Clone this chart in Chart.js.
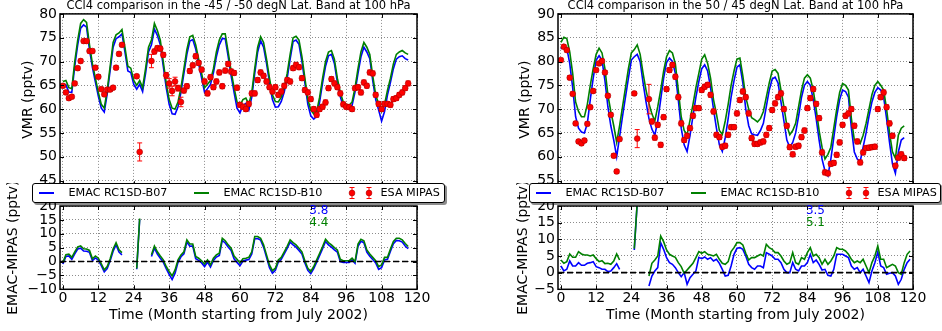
<!DOCTYPE html>
<html><head><meta charset="utf-8">
<script src="https://cdn.jsdelivr.net/npm/chart.js@4.4.1/dist/chart.umd.min.js"></script>
<style>
html,body{margin:0;padding:0;background:#fff;}
body{width:942px;height:331px;position:relative;overflow:hidden;font-family:'DejaVu Sans',sans-serif;}
canvas{position:absolute;}
.leg{position:absolute;top:183px;height:20px;box-sizing:border-box;border:1px solid #000;border-radius:3px;background:#fff;box-shadow:2px 2px 0 rgba(0,0,0,0.45);z-index:10;font-size:11.2px;color:#000;}
.leg .ln{position:absolute;top:8px;height:2px;width:15px;}
.leg .tx{position:absolute;top:0;line-height:18px;white-space:nowrap;}
.leg svg{position:absolute;top:0;}
</style></head><body>
<canvas id="tl" width="471" height="200" style="left:0;top:0"></canvas>
<canvas id="bl" width="471" height="148" style="left:0;top:183px"></canvas>
<canvas id="tr" width="471" height="200" style="left:471px;top:0"></canvas>
<canvas id="br" width="471" height="148" style="left:471px;top:183px"></canvas>
<div id="legL" class="leg"></div>
<div id="legR" class="leg"></div>
<script>
// ---------------- data ----------------
const seriesNames = ['EMAC RC1SD-B07', 'EMAC RC1SD-B10', 'ESA MIPAS'];
const titleL = 'CCl4 comparison in the -45 / -50 degN Lat. Band at 100 hPa';
const titleR = 'CCl4 comparison in the 50 / 45 degN Lat. Band at 100 hPa';
const yTitleTop = 'VMR (pptv)';
const yTitleBottom = 'EMAC-MIPAS (pptv)';
const xTitle = 'Time (Month starting from July 2002)';
const xTicks = [0, 12, 24, 36, 48, 60, 72, 84, 96, 108, 120];
const yTicksTL = [45, 50, 55, 60, 65, 70, 75, 80];
const yTicksTR = [55, 60, 65, 70, 75, 80, 85, 90];
const yTicksBL = [-10, -5, 0, 5, 10, 15, 20];
const yTicksBR = [-5, 0, 5, 10, 15, 20];
const statsL = ['3.8', '4.4'];
const statsR = ['3.5', '5.1'];

// Left panel (-45/-50 degN), month 0..117
const b07L = [64.9,65.1,63.6,63.5,69,73.5,77,77.7,77.2,72.5,
68.7,65.7,62.7,60.2,59.4,63.2,68.2,73,74.8,75.2,
75.8,72.1,68,67.7,65.2,64.2,65.2,63.7,67.5,72,
73.5,76.8,75.5,73.5,69,64.5,61,59,58.9,60.5,
63.5,67.5,71.5,74.3,74.6,72.6,69.5,66.5,63.5,64.3,
65.2,67.6,71,73.5,74.8,74.8,71,67,63.5,60.2,
59.2,60.8,61.2,59.8,62.5,67.5,72,74.4,73,69.6,
65.6,62,60.4,60.5,61.6,63.6,66.5,70.5,74.2,74.5,
73.6,70,65.5,61,58.6,57.9,58.5,61.5,65.5,69,
71.2,71.5,69.6,65.6,62.6,60.6,60.3,60,60.8,63.6,
67.5,71,73,72,70.6,66,62,59.8,57.5,59.5,
63,65.6,68.5,70.5,71,71.2,70.6,70.3];
const b10L = [65.8,66.0,64.5,64.3,70,74.5,78,78.8,78.2,73.5,
69.5,66.5,63.5,61,60.2,64,69,74,75.6,76,
76.7,73,69,68.6,66,65,66,64.5,68.5,73,
74.5,78,76.5,74.5,70,65.5,62,60.2,60,61.5,
64.5,68.5,72.5,75.2,75.5,73.5,70.5,67.5,64.5,65.2,
66,68.5,72,74.5,75.8,75.8,72,68,64.5,61.5,
60.8,62,62.3,61,63.5,68.5,73,75.2,74,70.5,
66.5,63,61.6,61.5,62.5,64.5,67.5,71.5,75,75.3,
74.5,71,66.5,62,59.8,59,59.5,62.5,66.5,70,
72,72.3,70.5,66.5,63.5,61.5,61,60.8,61.5,64.5,
68.5,72,74,73,71.5,67,63,61,59.5,61,
64,66.5,69.5,71.5,72,72.3,71.8,71.5];
const mipasL = [64.9,63.5,62.3,62.6,65.4,68.6,70.1,74.3,74.3,72.2,
72.2,68.7,66.8,64.2,63.1,64.1,64.1,64.5,68.7,71.6,
73.5,null,null,null,null,66.9,51,null,null,null,
70.1,72.1,72.8,72.7,71.4,67.1,65.4,63.8,65.8,64.4,
61.5,63.9,64.8,68,69.2,71.1,69.7,68.3,65.8,63.3,
66.7,64.6,65.8,67.7,64.8,68.1,69.5,67.9,67.6,64.5,
60.9,60.5,60,61.1,63.3,63.3,66.1,67.7,67,65.8,
64.6,63.7,64.6,63,63.7,64.9,66.1,65.8,68.6,69.3,
68.8,66.5,64,63.5,62.1,60,58.8,60,60.5,61.4,
64.4,66.3,65.4,64.6,63.3,61,60.5,60.4,60,64.4,
64.6,63.5,65.6,64.9,67.7,67.5,63,61.1,60,61.1,
61.1,60.9,62.1,62.3,63,63.5,64.4,65.4];
const mipasErrL = [0.4,0.4,0.4,0.4,0.4,0.4,0.4,0.4,0.4,0.4,
0.4,0.4,0.4,0.4,0.4,0.4,0.4,0.4,0.4,0.4,
0.4,null,null,null,null,0.4,1.9,null,null,null,
1.4,0.5,0.5,0.5,0.5,0.6,1.0,1.0,0.9,0.6,
1.0,0.5,0.5,0.5,0.5,0.5,0.5,0.5,0.5,0.5,
0.5,0.5,0.5,0.5,0.5,0.5,0.5,0.5,0.5,0.5,
0.5,0.5,0.5,0.5,0.5,0.5,0.5,0.5,0.5,0.5,
0.5,0.5,0.5,0.5,0.5,0.5,0.5,0.5,0.5,0.5,
0.5,0.5,0.5,0.5,0.5,0.5,0.5,0.5,0.5,0.5,
0.5,0.5,0.5,0.5,0.5,0.5,0.5,0.5,0.5,0.5,
0.5,0.5,0.5,0.5,0.5,0.5,0.5,0.5,0.5,0.5,
0.5,0.5,0.5,0.5,0.5,0.5,0.5,0.5];
const diffB07L = [-0.9,1.8,2,0.8,2.8,4.5,4.8,3.8,3.7,3.3,
0.3,1.3,0.5,-1.5,-3.7,-2.5,0.3,3.7,6,3.4,
2.4,null,null,null,null,-2.8,15.2,null,null,null,
1.8,4.8,2.7,1.2,-0.2,-2.6,-4.6,-6.5,-4.2,-0.3,
1.7,2.8,7,5.5,5.6,1,0.4,-0.5,-1.8,-0.2,
-2,0.4,1.6,2.2,7.6,6.7,5.2,4,1,-0.3,
-1.5,0.2,0.5,0.7,2.7,8.2,8.3,7.7,5.2,1.5,
-2.2,-4.2,-3.2,-0.2,0.8,2.8,4.7,7,6,5.2,
4,2.7,-0.5,-3.2,-4.4,-2.6,-0.2,2.2,4.6,7.2,
6,5.2,4.2,3.4,0,-0.3,-0.3,-0.3,0.6,-0.6,
5.5,7.3,6.8,3.4,1.9,0.7,-0.5,-2.8,-2.2,0.6,
0.8,3.7,6.4,7.6,7.5,7,5.6,4.6];
const diffB10L = [-0.3,2.5,2.7,1.5,3.5,5.3,5.6,4.6,4.5,4,
1,2,1.2,-0.8,-3,-1.8,1,4.5,6.8,4.2,
3.2,null,null,null,null,-2.5,15.5,null,null,null,
2.4,5.6,3.5,2,0.6,-1.8,-3.6,-5.2,-3,0.6,
2.4,3.5,7.8,6.3,6.3,1.8,1.2,0.3,-0.9,0.6,
-1.2,1.2,2.4,3,8.4,7.5,6,4.8,2,0.8,
-0.5,1,1.2,1.5,3.5,9,9,8.4,6,2.4,
-1.2,-3.3,-2.4,0.6,1.5,3.5,5.5,7.8,6.8,6,
4.8,3.5,0.3,-2.4,-3.6,-1.8,0.6,3,5.4,8,
6.8,6,5,4.2,0.8,0.3,0.3,0.3,1.2,0,
6.3,8,7.5,4.2,2.7,1.5,0.3,-1.8,-1.2,1.5,
1.5,4.5,7.2,8.4,8.4,7.8,6.5,5.4];

// Right panel (50/45 degN), month 0..117
const b07R = [82.6,83.5,82.8,79.6,74.5,68.4,66,65.2,65,67,
72,76.5,80.3,81.2,80.3,76,70.5,66.5,63.5,60,
64.2,68.5,72.5,76.5,80.3,81,81.5,80,75.5,71.5,
68,65.8,64.5,67.5,72,76.5,79.8,80.7,80,77.5,
72,66,62.5,61.1,64.5,68.5,72.5,75.8,78.5,79.3,
78,74.5,70,66,62.5,61.1,64,68,72.5,76,
78.8,79.3,75.5,70,66.5,64.8,64.6,64.5,65.5,67,
70.5,74,76.3,76.7,75.5,71.5,67.5,63.5,62,63,
65,68.5,72.5,75,75.8,75,72,68,63.5,59.5,
57,56,59.5,64,68.5,72,74,73.7,72.5,66,
61,59.5,59,62,65,68.5,71.5,73.5,74.5,74,
72.5,68,63,58.5,56.5,61,63.5,64];
const b10R = [84,85.1,84.8,82,77.5,71.5,69.5,68.4,68.4,71,
75,78.5,81.5,82.8,81.8,78.5,73,69.5,66.5,63,
66.5,70.5,74.5,78.5,81.8,82.5,83.5,81.5,77.5,74,
71.2,69,67.5,70.5,74,78,81,82.3,81.8,79.5,
74,68.4,65.5,64.6,67.7,71,74.5,77.5,80.5,81.4,
79.6,76.5,72,69,65.5,64.7,67.5,71,75,78,
80.5,80.7,77,72.5,70,68.2,67.8,67.3,68,69.5,
72.5,75.5,78,78.3,77.5,74,70.5,66.5,64.6,65.5,
67,70.5,74,76.5,77.2,76.5,74,70,65.5,62,
59.5,60.5,62,66,70,73.5,75.4,75,74,68,
63.5,63.5,62.8,64.5,67,70,73,75,75.8,75,
74,70,65,61,59.7,64.5,66,66.5];
const mipasR = [80.3,83.1,82.4,76.6,73.2,67,63.2,62.8,63.4,66.9,
70.4,73.8,78.2,79.6,80.1,77.7,72.8,68.8,60.2,56.9,
63.7,null,null,null,null,73.3,63.8,null,null,null,
72.1,67.4,64,66.7,62.5,68.3,74.2,78.2,79.3,76.8,
72.5,67,63.5,64.4,66,68.6,70.2,70.2,74,74.7,
75.1,73,69.5,64.6,64.1,62.1,62.3,64.6,66.2,66.2,
69.1,71.9,73.7,72.5,69.1,63.9,62.7,62.7,63,63.2,
64.6,66,69.8,71.2,72.5,73.3,70,66.5,62,60.5,
62.1,62.3,64.1,65.5,70.2,72.3,74.2,71.1,68.1,60.9,
56.7,56.5,58.5,58.7,60.4,63,66.7,68.6,69.1,70,
66.5,63.2,58.8,60.9,61.8,61.9,62,62.1,70,72.5,
73.5,70.4,67,64.4,58.1,59.8,60.5,59.7];
const mipasErrR = [0.4,0.4,0.4,0.4,0.4,0.4,0.4,0.4,0.4,0.4,
0.4,0.4,0.4,0.4,0.4,0.4,0.4,0.4,0.4,0.4,
0.4,null,null,null,null,0.4,1.9,null,null,null,
3.1,0.5,0.5,0.5,0.5,0.5,0.5,0.5,0.5,0.5,
0.5,0.5,0.5,0.5,0.5,0.5,0.5,0.5,0.5,0.5,
0.5,0.5,0.5,0.5,0.5,0.5,0.5,0.5,0.5,0.5,
0.5,0.5,0.5,0.5,0.5,0.5,0.5,0.5,0.5,0.5,
0.5,0.5,0.5,0.5,0.5,0.5,0.5,0.5,0.5,0.5,
0.5,0.5,0.5,0.5,0.5,0.5,0.5,0.5,0.5,0.5,
0.5,0.5,0.5,0.5,0.5,0.5,0.5,0.5,0.5,0.5,
0.5,0.5,0.5,0.5,0.5,0.5,0.5,0.5,0.5,0.5,
0.5,0.5,0.5,0.5,0.5,0.5,0.5,0.5];
const diffB07R = [2,0.5,1,3.5,2,2,3,2.2,2.2,2.8,
3,3.3,1.8,1.5,1,1,0.3,0.5,1.5,2.7,
1,null,null,null,null,6.8,21,null,null,null,
-4,-1,0.5,1.5,9,7,4.5,3,2.5,1.5,
0,-1.2,0,-3.5,-1.5,-0.5,0.5,4.6,4.2,4.7,
4,4.5,3.5,4,2.8,1,-1,-0.8,2,5.5,
7.3,7.5,7,5,2.5,1.5,1,2,2,1.5,
6,5.5,5,4,4,3,1,0,0,3,
1,0.5,2,2,3,5.5,3,3.8,2.5,0.8,
1,-0.8,-1,1,5.5,5.5,5.5,5,4.5,2,
1,1.5,0,1,-1,-3,0.5,3,6.2,2,
1.5,-0.5,-0.2,0,-1,-3.5,-2,1,3,4];
const diffB10R = [3.8,2.8,3.3,5.6,4.6,4.6,6.3,5.6,5.3,5.3,
5,5.3,4.2,3.3,3.6,2.7,2.8,2.5,3.5,5.6,
3.8,null,null,null,null,7.2,21,null,null,null,
-1,2.8,3.8,5,11,9.3,6.8,5.5,5,4.6,
3,1.8,-0.2,0.8,1.8,2.8,4.5,6.3,5.8,6.3,
5.5,5.3,5,5.5,4,2.8,2.5,3.3,6.3,7.5,
9,9,8.3,5.8,3.8,4.5,4.5,5,5.5,5,
8.5,7.5,7,6,6,5,3.5,2.5,3,6,
3,2.5,4.5,4,6,7.5,5,5.5,4.5,2.5,
4,2.5,3.5,5,7.5,7,7,6.5,5.5,4,
3,3.5,3,4,2,0,3,5,8,4,
4,1.5,2,2.5,2,0,-0.5,3,5.5,6.5];

// ---------------- styling ----------------
const FONT = "'DejaVu Sans', sans-serif";
const BLUE = '#0000ff', GREEN = '#008000', RED = '#ff0000';
const GRIDC = 'rgba(0,0,0,0.45)';
Chart.defaults.font.family = FONT;

const pts = arr => arr.map((v, i) => ({x: i, y: v}));

function deco(o) {
  return {
    id: 'deco',
    beforeDatasetDraw(chart, args) {
      const ds = chart.data.datasets[args.index];
      if (!ds.errors) return;
      const {ctx, chartArea: a} = chart;
      const xs = chart.scales.x, ys = chart.scales.y;
      ctx.save();
      ctx.beginPath(); ctx.rect(a.left, a.top, a.right - a.left, a.bottom - a.top); ctx.clip();
      ctx.strokeStyle = RED; ctx.lineWidth = 1;
      ds.data.forEach((p, i) => {
        const e = ds.errors[i];
        if (p.y == null || e == null) return;
        const px = xs.getPixelForValue(p.x);
        const y1 = ys.getPixelForValue(p.y - e), y2 = ys.getPixelForValue(p.y + e);
        ctx.beginPath();
        ctx.moveTo(px, y1); ctx.lineTo(px, y2);
        ctx.moveTo(px - 2.5, y1); ctx.lineTo(px + 2.5, y1);
        ctx.moveTo(px - 2.5, y2); ctx.lineTo(px + 2.5, y2);
        ctx.stroke();
      });
      ctx.restore();
    },
    afterDraw(chart) {
      const {ctx, chartArea: a} = chart;
      const xs = chart.scales.x, ys = chart.scales.y;
      ctx.save();
      if (o.zero) {
        const py = ys.getPixelForValue(0);
        ctx.strokeStyle = '#000'; ctx.lineWidth = 1.6; ctx.setLineDash([6, 3]);
        ctx.beginPath(); ctx.moveTo(a.left, py); ctx.lineTo(a.right, py); ctx.stroke();
        ctx.setLineDash([]);
      }
      ctx.strokeStyle = '#000'; ctx.lineWidth = 1;
      ctx.beginPath();
      xs.ticks.forEach(t => {
        const px = Math.round(xs.getPixelForValue(t.value)) + 0.5;
        ctx.moveTo(px, a.bottom); ctx.lineTo(px, a.bottom - 4);
        ctx.moveTo(px, a.top); ctx.lineTo(px, a.top + 4);
      });
      ys.ticks.forEach(t => {
        const py = Math.round(ys.getPixelForValue(t.value)) + 0.5;
        ctx.moveTo(a.left, py); ctx.lineTo(a.left + 4, py);
        ctx.moveTo(a.right, py); ctx.lineTo(a.right - 4, py);
      });
      ctx.stroke();
      ctx.lineWidth = 1.5;
      ctx.strokeRect(a.left, a.top, a.right - a.left, a.bottom - a.top);
      if (o.title) {
        ctx.font = '11.5px ' + FONT; ctx.fillStyle = '#000';
        ctx.textAlign = 'center'; ctx.textBaseline = 'middle';
        ctx.fillText(o.title, (a.left + a.right) / 2, 6);
      }
      (o.notes || []).forEach(n => {
        ctx.font = '12px ' + FONT; ctx.fillStyle = n.color;
        ctx.textAlign = 'left'; ctx.textBaseline = 'middle';
        ctx.fillText(n.text, xs.getPixelForValue(n.x), ys.getPixelForValue(n.y));
      });
      ctx.restore();
    }
  };
}

function axisX(showLabels, height) {
  return {
    type: 'linear', min: -1, max: 120,
    afterBuildTicks: s => { s.ticks = xTicks.map(v => ({value: v})); },
    afterFit: s => { s.height = height; },
    ticks: {display: showLabels, padding: 1, autoSkip: false, maxRotation: 0,
            font: {family: FONT, size: 14}, color: '#000'},
    grid: {color: GRIDC, lineWidth: 1, drawTicks: false},
    border: {display: false, dash: [1, 2]},
    title: showLabels ? {display: true, text: xTitle, color: '#000',
            font: {family: FONT, size: 14}, padding: {top: 0, bottom: 6.9}} : {display: false}
  };
}
function axisY(min, max, ticks, width, title, titlePad) {
  return {
    type: 'linear', min: min, max: max,
    afterBuildTicks: s => { s.ticks = ticks.map(v => ({value: v})); },
    afterFit: s => { s.width = width; },
    ticks: {padding: 3, autoSkip: false, font: {family: FONT, size: 14}, color: '#000',
            callback: v => String(v).replace('-', '\u2212')},
    grid: {color: GRIDC, lineWidth: 1, drawTicks: false},
    border: {display: false, dash: [1, 2]},
    title: {display: true, text: title, color: '#000', font: {family: FONT, size: 14},
            padding: {top: titlePad, bottom: 0}}
  };
}
const baseOpts = {
  responsive: false, animation: false, events: [],
  plugins: {legend: {display: false}, tooltip: {enabled: false}, title: {display: false}}
};

function topChart(id, b07, b10, mipas, err, yMin, yMax, yTicks, yWidth, titlePad, padRight, title) {
  return new Chart(document.getElementById(id), {
    type: 'line',
    data: {datasets: [
      {label: seriesNames[0], data: pts(b07), borderColor: BLUE, borderWidth: 1.6, pointRadius: 0, tension: 0, order: 3},
      {label: seriesNames[1], data: pts(b10), borderColor: GREEN, borderWidth: 1.6, pointRadius: 0, tension: 0, order: 2},
      {label: seriesNames[2], data: pts(mipas), errors: err, showLine: false, pointRadius: 2.9,
       pointBackgroundColor: RED, pointBorderColor: '#aa0000', pointBorderWidth: 0.6, order: 1}
    ]},
    options: Object.assign({}, baseOpts, {
      layout: {padding: {top: 13.9, right: padRight, bottom: 14.74, left: 0}},
      scales: {x: axisX(false, 0), y: axisY(yMin, yMax, yTicks, yWidth, yTitleTop, titlePad)}
    }),
    plugins: [deco({title: title})]
  });
}
function bottomChart(id, d07, d10, yMin, yMax, yTicks, yWidth, titlePad, padRight, notes) {
  return new Chart(document.getElementById(id), {
    type: 'line',
    data: {datasets: [
      {label: seriesNames[0], data: pts(d07), borderColor: BLUE, borderWidth: 1.6, pointRadius: 0, tension: 0, order: 2},
      {label: seriesNames[1], data: pts(d10), borderColor: GREEN, borderWidth: 1.6, pointRadius: 0, tension: 0, order: 1}
    ]},
    options: Object.assign({}, baseOpts, {
      layout: {padding: {top: 23, right: padRight, bottom: 0, left: 0}},
      scales: {x: axisX(true, 41.7), y: axisY(yMin, yMax, yTicks, yWidth, yTitleBottom, titlePad)}
    }),
    plugins: [deco({zero: true, notes: notes})]
  });
}

topChart('tl', b07L, b10L, mipasL, mipasErrL, 44, 80, yTicksTL, 60, 19.8, 54, titleL);
topChart('tr', b07R, b10R, mipasR, mipasErrR, 54, 90, yTicksTR, 87, 46, 29, titleR);
bottomChart('bl', diffB07L, diffB10L, -10, 20, yTicksBL, 60, 5.4, 54,
  [{x: 83.5, y: 18.3, text: statsL[0], color: BLUE}, {x: 83.5, y: 14.0, text: statsL[1], color: GREEN}]);
bottomChart('br', diffB07R, diffB10R, -5, 20, yTicksBR, 87, 43.6, 29,
  [{x: 83.5, y: 18.5, text: statsR[0], color: BLUE}, {x: 83.5, y: 14.9, text: statsR[1], color: GREEN}]);

// ---------------- legends ----------------
function mipasMarker() {
  const one = cx => `<line x1="${cx}" y1="3.5" x2="${cx}" y2="14.5"/><line x1="${cx-2.5}" y1="3.5" x2="${cx+2.5}" y2="3.5"/><line x1="${cx-2.5}" y1="14.5" x2="${cx+2.5}" y2="14.5"/>`;
  return `<svg style="left:312px" width="32" height="18" viewBox="0 0 32 18"><g stroke="${RED}" stroke-width="1">${one(7)}${one(24)}</g>` +
    `<circle cx="7" cy="9" r="2.9" fill="${RED}" stroke="#aa0000" stroke-width="0.6"/><circle cx="24" cy="9" r="2.9" fill="${RED}" stroke="#aa0000" stroke-width="0.6"/></svg>`;
}
function buildLegend(id, left, width) {
  const el = document.getElementById(id);
  el.style.left = left + 'px'; el.style.width = width + 'px';
  el.innerHTML =
    `<span class="ln" style="left:6px;background:${BLUE}"></span>` +
    `<span class="tx" style="left:35.5px">${seriesNames[0]}</span>` +
    `<span class="ln" style="left:161px;background:${GREEN}"></span>` +
    `<span class="tx" style="left:190.5px">${seriesNames[1]}</span>` +
    mipasMarker() +
    `<span class="tx" style="left:347.5px">${seriesNames[2]}</span>`;
}
buildLegend('legL', 32, 413);
buildLegend('legR', 529, 412);
</script>
</body></html>
